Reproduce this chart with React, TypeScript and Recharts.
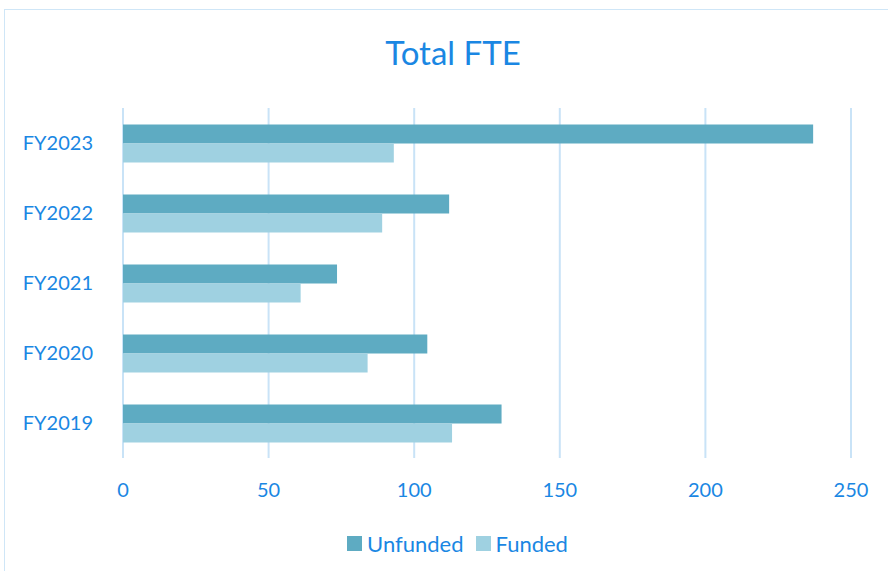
import { BarChart, Bar, XAxis, YAxis, CartesianGrid, Legend } from "recharts";

const years = ["FY2023", "FY2022", "FY2021", "FY2020", "FY2019"];
const unfunded = [237, 112, 73.5, 104.5, 130];
const funded = [93, 89, 61, 84, 113];
const xTicks = [0, 50, 100, 150, 200, 250];
const seriesNames = ["Unfunded", "Funded"];
const seriesColors = ["#5EABC2", "#9FD1E1"];

const data = years.map((y, i) => ({ year: y, Unfunded: unfunded[i], Funded: funded[i] }));

const blue = "#1A87E3";
const font = "Lato, 'Noto Sans', sans-serif";
const tickStyle = { fill: blue, fontSize: 20, fontFamily: font };

function LegendBox() {
  return (
    <div style={{ display: "flex", justifyContent: "center", gap: 12, marginTop: 10, paddingLeft: 64,
      fontFamily: font, fontSize: 22, color: blue }}>
      {seriesNames.map((n, i) => (
        <span key={n} style={{ display: "flex", alignItems: "center", gap: 5 }}>
          <span style={{ width: 15, height: 15, background: seriesColors[i], display: "inline-block" }} />
          {n}
        </span>
      ))}
    </div>
  );
}

export default function App() {
  return (
    <div style={{ position: "fixed", left: 0, top: 0, width: 888, height: 571, background: "#fff" }}>
      {/* frame */}
      <div style={{ position: "absolute", left: 4, top: 9, width: 900, height: 600, border: "1.5px solid #CFE6F7" }} />
      <div style={{ position: "absolute", left: 0, top: 32, width: 906, textAlign: "center", color: blue, fontSize: 33, fontFamily: font }}>
        Total FTE
      </div>
      <div style={{ position: "absolute", left: 0, top: 0 }}>
        <BarChart width={888} height={571} data={data} layout="vertical"
          margin={{ top: 108, right: 37, left: 0, bottom: 6 }}
          barCategoryGap="23.5%" barGap={0}>
          <CartesianGrid horizontal={false} stroke="#C9E3F7" strokeWidth={2} />
          <XAxis type="number" domain={[0, 250]} ticks={xTicks} axisLine={false} tickLine={false}
            tick={tickStyle} height={62} dy={17} />
          <YAxis type="category" dataKey="year" axisLine={false} tickLine={false} width={123}
            tick={tickStyle} dx={-22} />
          <Legend verticalAlign="bottom" height={45} content={() => <LegendBox />} />
          {seriesNames.map((n, i) => (
            <Bar key={n} dataKey={n} fill={seriesColors[i]} isAnimationActive={false} />
          ))}
        </BarChart>
      </div>
    </div>
  );
}
